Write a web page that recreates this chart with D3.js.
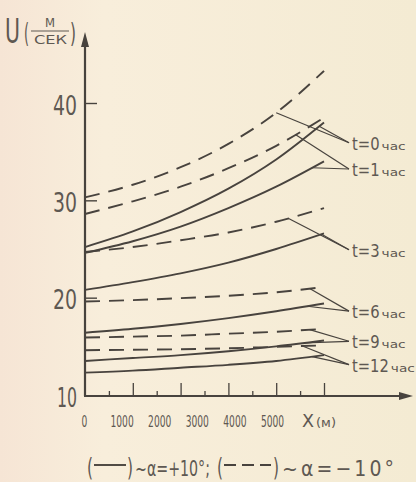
<!DOCTYPE html>
<html><head><meta charset="utf-8">
<script src="https://cdn.jsdelivr.net/npm/d3@7"></script>
<style>body{margin:0;background:#f6eed9;} svg{display:block}</style>
</head><body>
<script>
// ---------- data ----------
const xValues = [0, 1000, 2000, 3000, 4000, 5000];          // X, m
const timeLabels = ["t=0", "t=1", "t=3", "t=6", "t=9", "t=12"];
const timeUnit = "час";
// solid lines: alpha = +10°
const plus10_t0  = [25.2, 26.8, 28.8, 31.2, 34.2, 38.0];
const plus10_t1  = [24.6, 25.8, 27.3, 29.2, 31.4, 34.0];
const plus10_t3  = [20.8, 21.6, 22.5, 23.6, 25.0, 26.6];
const plus10_t6  = [16.4, 16.8, 17.3, 17.9, 18.6, 19.4];
const plus10_t9  = [13.5, 13.8, 14.1, 14.5, 15.0, 15.6];
const plus10_t12 = [12.3, 12.5, 12.8, 13.1, 13.5, 14.1];
// dashed lines: alpha = -10°
const minus10_t0  = [30.3, 31.6, 33.4, 35.8, 39.0, 43.3];
const minus10_t1  = [28.6, 29.9, 31.4, 33.3, 35.6, 38.5];
const minus10_t3  = [24.7, 25.2, 25.9, 26.7, 27.8, 29.2];
const minus10_t6  = [19.6, 19.75, 19.95, 20.2, 20.55, 21.1];
const minus10_t9  = [15.9, 16.0, 16.1, 16.3, 16.5, 16.8];
const minus10_t12 = [14.6, 14.65, 14.7, 14.8, 14.95, 15.1];

const yTickLabels = [10, 20, 30, 40];
const yTickMarks = [20, 30, 40];
const xTickLabels = [0, 1000, 2000, 3000, 4000, 5000];
const xMinorTicks = [500, 1500, 2500, 3500, 4500];
const legendPlus = "~α=+10°;";
const legendMinus = "~α=−10°";

// ---------- layout ----------
const plusSeries = [plus10_t0, plus10_t1, plus10_t3, plus10_t6, plus10_t9, plus10_t12];
const minusSeries = [minus10_t0, minus10_t1, minus10_t3, minus10_t6, minus10_t9, minus10_t12];
// where the label leaders touch the curves (X in m) and label baselines (U)
const leaderDashX = [4000, 4400, 4250, 4700, 4700, 4550];
const leaderSolidX = [4900, 4750, 4950, 4650, 4600, 4750];
const labelBaseU = [35.2, 32.5, 24.2, 17.9, 14.8, 12.4];

const W = 416, H = 482;
const ink = "#48433e", textInk = "#5e5852";
const FONT = "'Liberation Sans Narrow','DejaVu Sans Condensed','Roboto',sans-serif";

const x = d3.scaleLinear().domain([0, 5000]).range([85, 324]);
const y = d3.scaleLinear().domain([10, 40]).range([395, 103]);
const xLetter = d3.scaleLinear().domain([0, 5000]).range([84, 272]); // hand-lettered labels

const svg = d3.select("body").append("svg").attr("width", W).attr("height", H)
  .style("font-family", FONT);

const defs = svg.append("defs");
const g = defs.append("linearGradient").attr("id", "paper").attr("x1", 0).attr("x2", 1).attr("y1", 0).attr("y2", 0);
g.append("stop").attr("offset", "0").attr("stop-color", "#f6e5d5");
g.append("stop").attr("offset", "0.25").attr("stop-color", "#f8eedb");
g.append("stop").attr("offset", "1").attr("stop-color", "#f4ebd3");
svg.append("rect").attr("width", W).attr("height", H).attr("fill", "url(#paper)");

function txt(sel, s, px, py, size, len, adj) {
  const t = sel.append("text").attr("x", px).attr("y", py).attr("font-size", size)
    .attr("fill", textInk).text(s);
  if (len) t.attr("textLength", len).attr("lengthAdjust", adj || "spacingAndGlyphs");
  return t;
}

// ---------- axes ----------
const x0 = x.range()[0], y0 = y(10);
svg.append("line").attr("x1", x0).attr("x2", x0).attr("y1", y0 + 1).attr("y2", 40)
  .attr("stroke", ink).attr("stroke-width", 2.2);
svg.append("path").attr("d", `M${x0},32 L${x0 - 4},47 L${x0 + 4},47 Z`).attr("fill", ink);
svg.append("line").attr("x1", x0 - 1).attr("x2", 406).attr("y1", y0 + 1).attr("y2", y0 + 1)
  .attr("stroke", ink).attr("stroke-width", 2.2);
svg.append("path").attr("d", `M413,${y0 + 1} L399,${y0 - 3} L399,${y0 + 5} Z`).attr("fill", ink);

// y tick marks
const yTicks = svg.append("g").attr("transform", `translate(${x0 + 1},0)`)
  .call(d3.axisLeft(y).tickValues(yTickMarks).tickSize(-11).tickFormat(""));
yTicks.select(".domain").remove();
yTicks.selectAll("line").attr("stroke", ink).attr("stroke-width", 1.4);

// y labels
const yLab = svg.append("g").attr("transform", `translate(77,11)`)
  .call(d3.axisLeft(y).tickValues(yTickLabels).tickSize(0).tickPadding(0).tickFormat(d3.format("d")));
yLab.select(".domain").remove();
yLab.selectAll("text").attr("font-size", 27).attr("fill", textInk).attr("dy", 0)
  .attr("font-family", FONT)
  .attr("textLength", d => d === 10 ? 20 : 24).attr("lengthAdjust", "spacingAndGlyphs");

// x ticks (major / minor), drawn upward
const xMaj = svg.append("g").attr("transform", `translate(0,${y0})`)
  .call(d3.axisBottom(x).tickValues(xTickLabels.slice(1)).tickSize(-12).tickFormat(""));
xMaj.select(".domain").remove();
xMaj.selectAll("line").attr("stroke", ink).attr("stroke-width", 1.3);
const xMin = svg.append("g").attr("transform", `translate(0,${y0})`)
  .call(d3.axisBottom(x).tickValues(xMinorTicks).tickSize(-4).tickFormat(""));
xMin.select(".domain").remove();
xMin.selectAll("line").attr("stroke", ink).attr("stroke-width", 1.3);

// x labels
const xLab = svg.append("g").attr("transform", `translate(0,${y0 + 32})`)
  .call(d3.axisBottom(xLetter).tickValues(xTickLabels).tickSize(0).tickPadding(0).tickFormat(d3.format("d")));
xLab.select(".domain").remove();
xLab.selectAll("text").attr("font-size", 16).attr("fill", textInk).attr("dy", 0)
  .attr("font-family", FONT)
  .attr("textLength", d => String(d).length * 5.8).attr("lengthAdjust", "spacingAndGlyphs");

txt(svg, "X", 302, 427, 18, 12);
txt(svg, "(м)", 316, 427, 12, 20);

// y title U(м/сек)
txt(svg, "U", 5, 43, 34, 15);
txt(svg, "(", 24, 42, 26, 5);
txt(svg, "М", 45, 27, 12, 10);
svg.append("line").attr("x1", 31).attr("x2", 69).attr("y1", 31).attr("y2", 31)
  .attr("stroke", textInk).attr("stroke-width", 1.2);
txt(svg, "СЕК", 34, 44, 12, 33);
txt(svg, ")", 70, 42, 26, 6);

// ---------- curves ----------
const line = d3.line().x((d, i) => x(xValues[i])).y(d => y(d)).curve(d3.curveMonotoneX);
svg.append("g").selectAll("path").data(plusSeries).join("path")
  .attr("d", line).attr("fill", "none").attr("stroke", ink).attr("stroke-width", 1.9);
svg.append("g").selectAll("path").data(minusSeries).join("path")
  .attr("d", line).attr("fill", "none").attr("stroke", ink).attr("stroke-width", 1.9)
  .attr("stroke-dasharray", "15,9");

// ---------- labels with leaders ----------
function at(series, xm) { return d3.scaleLinear().domain(xValues).range(series)(xm); }
timeLabels.forEach((lab, i) => {
  const by = y(labelBaseU[i]);
  const apexX = 349, apexY = by - 7;
  const lg = svg.append("g");
  [[minusSeries[i], leaderDashX[i]], [plusSeries[i], leaderSolidX[i]]].forEach(([s, xm]) => {
    lg.append("line").attr("x1", x(xm)).attr("y1", y(at(s, xm)))
      .attr("x2", apexX).attr("y2", apexY).attr("stroke", ink).attr("stroke-width", 1.2);
  });
  const len = lab.length * 9.2;
  txt(lg, lab, 352, by, 17, len);
  txt(lg, timeUnit, 352 + len + 2, by, 10, 24);
});

// ---------- legend ----------
const ly = 476;
txt(svg, "(", 87, ly, 24, 6);
svg.append("line").attr("x1", 94).attr("x2", 126).attr("y1", ly - 11).attr("y2", ly - 11)
  .attr("stroke", ink).attr("stroke-width", 1.9);
txt(svg, ")", 127, ly, 24, 6);
txt(svg, legendPlus, 135, ly, 21, 75);
txt(svg, "(", 217, ly, 24, 6);
svg.append("line").attr("x1", 224).attr("x2", 271).attr("y1", ly - 11).attr("y2", ly - 11)
  .attr("stroke", ink).attr("stroke-width", 1.9).attr("stroke-dasharray", "12,6");
txt(svg, ")", 273, ly, 24, 6);
txt(svg, legendMinus, 282, ly, 21, 112, "spacing");
</script>
</body></html>
